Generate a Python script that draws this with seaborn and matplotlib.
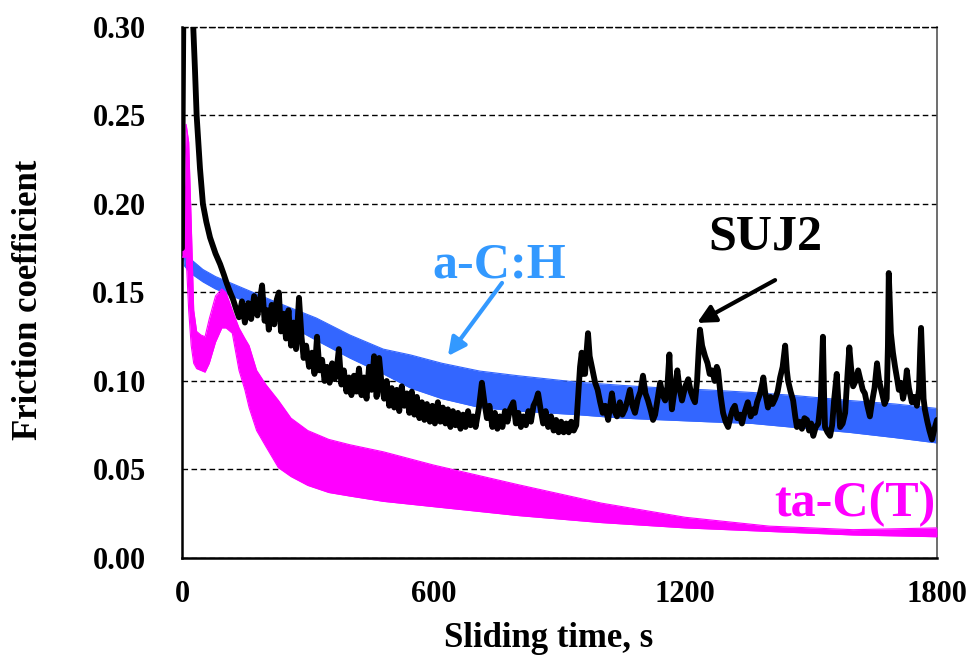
import matplotlib
matplotlib.use("Agg")
import matplotlib.pyplot as plt
import pandas as pd
import seaborn as sns

# ---- a-C:H : oscillation band (upper / lower envelope) ----
ach_t = [0, 2, 6, 20, 50, 80, 120, 160, 220, 320, 400, 480, 545, 620, 710, 800,
         940, 1050, 1150, 1250, 1360, 1450, 1590, 1700, 1800]
ach_hi = [0.205, 0.185, 0.173, 0.169, 0.163, 0.159, 0.155, 0.151, 0.145, 0.1356,
          0.126, 0.118, 0.1147, 0.110, 0.1056, 0.103, 0.0994, 0.0975, 0.096, 0.095,
          0.0935, 0.092, 0.089, 0.087, 0.0845]
ach_lo = [0.182, 0.172, 0.165, 0.161, 0.156, 0.152, 0.148, 0.144, 0.136, 0.123,
          0.113, 0.104, 0.096, 0.090, 0.085, 0.083, 0.081, 0.079, 0.078, 0.077,
          0.076, 0.074, 0.071, 0.068, 0.065]

# ---- ta-C(T) : oscillation band ----
tac_t = [0, 5, 10, 16, 22, 28, 35, 45, 55, 65, 80, 95, 105, 120, 136, 150, 160,
         178, 200, 230, 260, 300, 350, 400, 480, 600, 800, 1000, 1200, 1400, 1600,
         1800]
tac_hi = [0.175, 0.200, 0.245, 0.235, 0.190, 0.140, 0.128, 0.126, 0.125, 0.135,
          0.148, 0.152, 0.150, 0.140, 0.130, 0.124, 0.120, 0.106, 0.098, 0.089,
          0.079, 0.072, 0.067, 0.064, 0.060, 0.0525, 0.0415, 0.031, 0.023, 0.018,
          0.016, 0.017]
tac_lo = [0.170, 0.170, 0.170, 0.140, 0.120, 0.110, 0.107, 0.106, 0.105, 0.110,
          0.122, 0.130, 0.130, 0.127, 0.106, 0.095, 0.085, 0.072, 0.063, 0.051,
          0.046, 0.041, 0.037, 0.035, 0.032, 0.029, 0.024, 0.020, 0.017, 0.015,
          0.013, 0.012]

# ---- SUJ2 : friction trace ----
suj_t = [0, 2, 4, 20, 27, 31, 35, 43, 50, 58, 67, 80, 91, 100, 107, 115, 122, 130,
         136, 143, 150, 158, 165, 172, 180, 186, 191, 197, 203, 207, 214, 220, 226,
         231, 236, 242, 248, 254, 260, 266, 272, 279, 285, 290, 296, 303, 310, 316,
         322, 328, 334, 340, 346, 352, 358, 364, 370, 374, 380, 386, 392, 398, 404,
         410, 416, 422, 428, 434, 440, 446, 452, 458, 464, 470, 476, 482, 488, 494,
         500, 506, 512, 518, 524, 530, 536, 542, 548, 554, 560, 566, 572, 578, 584,
         591, 597, 603, 610, 616, 622, 628, 634, 640, 646, 652, 658, 664, 670, 676,
         682, 688, 694, 700, 708, 715, 721, 727, 733, 740, 746, 752, 758, 764, 770,
         776, 782, 790, 796, 802, 808, 814, 820, 826, 832, 838, 844, 849, 855, 861,
         867, 873, 880, 886, 892, 898, 904, 910, 916, 922, 928, 934, 940, 944, 949,
         953, 957, 961, 964, 968, 972, 979, 985, 991, 997, 1003, 1009, 1016, 1025,
         1031, 1037, 1044, 1050, 1056, 1062, 1068, 1074, 1080, 1087, 1093, 1099,
         1105, 1111, 1118, 1123, 1128, 1134, 1140, 1146, 1152, 1157, 1162, 1165,
         1168, 1174, 1181, 1186, 1192, 1200, 1207, 1213, 1219, 1223, 1228, 1232,
         1235, 1240, 1247, 1253, 1258, 1264, 1270, 1275, 1278, 1284, 1290, 1296,
         1302, 1308, 1313, 1318, 1324, 1330, 1335, 1341, 1349, 1356, 1362, 1366,
         1371, 1377, 1383, 1386, 1390, 1397, 1403, 1408, 1414, 1420, 1426, 1432,
         1438, 1442, 1445, 1451, 1457, 1462, 1466, 1472, 1478, 1484, 1490, 1495,
         1500, 1505, 1511, 1517, 1523, 1528, 1531, 1533, 1539, 1545, 1550, 1555,
         1561, 1565, 1569, 1575, 1581, 1587, 1591, 1595, 1600, 1606, 1612, 1618,
         1623, 1628, 1634, 1640, 1645, 1651, 1657, 1662, 1669, 1675, 1680, 1683,
         1685, 1688, 1690, 1695, 1700, 1705, 1709, 1714, 1719, 1724, 1728, 1733,
         1740, 1746, 1752, 1757, 1760, 1762, 1765, 1768, 1771, 1777, 1782, 1788,
         1794, 1800]
suj_mu = [0.175, 0.26, 0.33, 0.34, 0.30, 0.276, 0.25, 0.22, 0.20, 0.19, 0.181,
          0.172, 0.166, 0.160, 0.155, 0.150, 0.146, 0.140, 0.136, 0.145, 0.133,
          0.144, 0.135, 0.148, 0.137, 0.146, 0.154, 0.134, 0.140, 0.129, 0.143,
          0.132, 0.146, 0.150, 0.128, 0.138, 0.124, 0.140, 0.120, 0.133, 0.118,
          0.147, 0.125, 0.113, 0.120, 0.108, 0.116, 0.104, 0.125, 0.106, 0.112,
          0.100, 0.108, 0.099, 0.110, 0.101, 0.109, 0.118, 0.098, 0.106, 0.094,
          0.102, 0.092, 0.103, 0.094, 0.107, 0.092, 0.102, 0.090, 0.108, 0.095,
          0.114, 0.091, 0.113, 0.098, 0.090, 0.100, 0.086, 0.096, 0.085, 0.095,
          0.083, 0.097, 0.086, 0.093, 0.082, 0.094, 0.081, 0.091, 0.079, 0.088,
          0.078, 0.087, 0.077, 0.086, 0.076, 0.088, 0.077, 0.085, 0.076, 0.084,
          0.074, 0.083, 0.075, 0.082, 0.073, 0.081, 0.074, 0.083, 0.075, 0.080,
          0.074, 0.085, 0.099, 0.088, 0.079, 0.086, 0.074, 0.082, 0.073, 0.080,
          0.074, 0.083, 0.077, 0.084, 0.088, 0.076, 0.082, 0.074, 0.080, 0.075,
          0.083, 0.077, 0.086, 0.089, 0.093, 0.084, 0.076, 0.083, 0.074, 0.080,
          0.072, 0.078, 0.071, 0.077, 0.071, 0.076, 0.071, 0.077, 0.072, 0.075,
          0.090, 0.108, 0.116, 0.104, 0.104, 0.115, 0.127, 0.114, 0.106, 0.099,
          0.095, 0.088, 0.082, 0.086, 0.078, 0.093, 0.083, 0.080, 0.088, 0.081,
          0.084, 0.089, 0.095, 0.086, 0.082, 0.090, 0.094, 0.103, 0.093, 0.089,
          0.083, 0.078, 0.081, 0.090, 0.099, 0.092, 0.089, 0.096, 0.115, 0.095,
          0.084, 0.094, 0.106, 0.096, 0.089, 0.097, 0.101, 0.094, 0.090, 0.088,
          0.100, 0.118, 0.129, 0.120, 0.114, 0.110, 0.104, 0.106, 0.100, 0.108,
          0.106, 0.092, 0.082, 0.077, 0.074, 0.080, 0.084, 0.086, 0.079, 0.081,
          0.076, 0.082, 0.088, 0.080, 0.084, 0.082, 0.088, 0.092, 0.098, 0.102,
          0.094, 0.085, 0.091, 0.087, 0.090, 0.094, 0.102, 0.108, 0.120, 0.106,
          0.100, 0.094, 0.089, 0.080, 0.074, 0.077, 0.073, 0.079, 0.078, 0.072,
          0.076, 0.069, 0.074, 0.076, 0.090, 0.125, 0.090, 0.074, 0.071, 0.069,
          0.075, 0.090, 0.104, 0.088, 0.074, 0.076, 0.082, 0.105, 0.119, 0.108,
          0.097, 0.100, 0.106, 0.100, 0.095, 0.093, 0.086, 0.080, 0.088, 0.096,
          0.110, 0.100, 0.093, 0.087, 0.090, 0.120, 0.161, 0.140, 0.127, 0.116,
          0.108, 0.101, 0.095, 0.099, 0.090, 0.096, 0.106, 0.096, 0.088, 0.091,
          0.086, 0.095, 0.118, 0.130, 0.110, 0.090, 0.084, 0.077, 0.072, 0.067,
          0.073, 0.078]

x_ticks = [0, 600, 1200, 1800]
y_ticks = [0.00, 0.05, 0.10, 0.15, 0.20, 0.25, 0.30]

BLUE = "#3366FF"
MAGENTA = "#FF00FF"
LABEL_BLUE = "#3399FF"

sns.set_theme(style="white")
plt.rcParams["font.family"] = ["Liberation Serif", "DejaVu Serif"]
plt.rcParams["font.weight"] = "bold"
for key in ("text.color", "axes.labelcolor", "xtick.color", "ytick.color"):
    plt.rcParams[key] = "black"

fig = plt.figure(figsize=(9.72, 6.71), dpi=100)
ax = fig.add_axes([0.1872, 0.1684, 0.7768, 0.7914])

ach = pd.DataFrame({"t": ach_t, "hi": ach_hi, "lo": ach_lo})
tac = pd.DataFrame({"t": tac_t, "hi": tac_hi, "lo": tac_lo})
suj = pd.DataFrame({"t": suj_t, "mu": suj_mu})

# a-C:H band
ax.fill_between(ach["t"], ach["lo"], ach["hi"], color=BLUE, lw=0, zorder=2)
sns.lineplot(data=ach, x="t", y="hi", ax=ax, color=BLUE, linewidth=0.8, zorder=2)
sns.lineplot(data=ach, x="t", y="lo", ax=ax, color=BLUE, linewidth=0.8, zorder=2)

# ta-C(T) band
ax.fill_between(tac["t"], tac["lo"], tac["hi"], color=MAGENTA, lw=0, zorder=3)
sns.lineplot(data=tac, x="t", y="hi", ax=ax, color=MAGENTA, linewidth=0.8, zorder=3)
sns.lineplot(data=tac, x="t", y="lo", ax=ax, color=MAGENTA, linewidth=0.8, zorder=3)

# SUJ2 trace (thick pen)
n_before = len(ax.lines)
sns.lineplot(data=suj, x="t", y="mu", ax=ax, color="black",
             estimator=None, sort=False, zorder=4)
for ln in ax.lines[n_before:]:
    ln.set_linewidth(4.2)
    ln.set_solid_joinstyle("round")

ax.set_xlim(0, 1800)
ax.set_ylim(0, 0.30)
ax.set_xticks(x_ticks)
ax.set_yticks(y_ticks)
ax.set_xticklabels([str(v) for v in x_ticks])
ax.set_yticklabels([f"{v:.2f}" for v in y_ticks])

ax.yaxis.grid(True, color="black", linestyle=(0, (4, 2.5)), linewidth=1.0, zorder=1)
ax.xaxis.grid(False)
ax.set_axisbelow(True)

for side in ("left", "bottom"):
    ax.spines[side].set_color("black")
    ax.spines[side].set_linewidth(1.8)
ax.spines["right"].set_color("#555555")
ax.spines["right"].set_linewidth(1.2)
ax.spines["top"].set_color("black")
ax.spines["top"].set_linewidth(1.0)
ax.spines["top"].set_linestyle((0, (4, 2.5)))

ax.tick_params(axis="x", direction="in", length=7, width=1.2, color="black",
               labelcolor="black", pad=16, labelsize=22)
ax.tick_params(axis="y", direction="in", length=5, width=1.0, color="black",
               labelcolor="black", pad=26, labelsize=22)
for lab in ax.get_xticklabels() + ax.get_yticklabels():
    lab.set_fontweight("bold")

ax.set_xlabel("Sliding time, s", fontsize=25, fontweight="bold", color="black")
ax.set_ylabel("Friction coefficient", fontsize=25, fontweight="bold", color="black")
ax.xaxis.set_label_coords(0.486, -0.12)
ax.yaxis.set_label_coords(-0.181, 0.486)

# series labels with arrows
ax.text(1390, 0.181, "SUJ2", fontsize=36, fontweight="bold", color="black",
        ha="center", va="center", zorder=6)
ax.annotate("", xy=(1228, 0.1328), xytext=(1414, 0.157),
            arrowprops=dict(arrowstyle="-|>,head_length=0.9,head_width=0.45",
                            lw=3, color="black", shrinkA=0, shrinkB=0), zorder=6)

ax.text(756, 0.165, "a-C:H", fontsize=36, fontweight="bold", color=LABEL_BLUE,
        ha="center", va="center", zorder=6)
ax.annotate("", xy=(634, 0.1141), xytext=(763, 0.1554),
            arrowprops=dict(arrowstyle="-|>,head_length=0.9,head_width=0.45",
                            lw=3, color=LABEL_BLUE, shrinkA=0, shrinkB=0), zorder=6)

ax.text(1604, 0.0305, "ta-C(T)", fontsize=36, fontweight="bold", color=MAGENTA,
        ha="center", va="center", zorder=6)

fig.savefig("out.png", dpi=100)
